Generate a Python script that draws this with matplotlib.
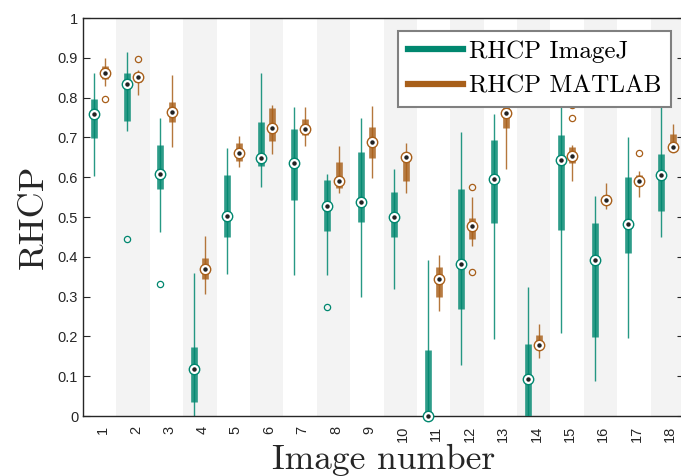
import numpy as np
import matplotlib
matplotlib.use("Agg")
import matplotlib.pyplot as plt
from matplotlib.lines import Line2D

# box statistics (whisker low, q1, median, q3, whisker high)
images = list(range(1, 19))

ij_lo  = [0.604, 0.715, 0.463, 0.0,   0.358, 0.576, 0.354, 0.354, 0.298, 0.318, 0.0,   0.129, 0.193, 0.0,   0.209, 0.089, 0.197, 0.450]
ij_q1  = [0.699, 0.742, 0.570, 0.036, 0.450, 0.629, 0.542, 0.466, 0.487, 0.450, 0.0,   0.270, 0.486, 0.0,   0.468, 0.199, 0.409, 0.516]
ij_med = [0.758, 0.834, 0.608, 0.117, 0.502, 0.649, 0.636, 0.529, 0.537, 0.500, 0.0,   0.381, 0.596, 0.092, 0.643, 0.391, 0.483, 0.606]
ij_q3  = [0.796, 0.862, 0.681, 0.173, 0.605, 0.738, 0.722, 0.593, 0.663, 0.563, 0.167, 0.570, 0.693, 0.181, 0.705, 0.485, 0.600, 0.658]
ij_hi  = [0.861, 0.914, 0.750, 0.359, 0.673, 0.861, 0.776, 0.608, 0.749, 0.621, 0.391, 0.714, 0.758, 0.323, 0.779, 0.552, 0.701, 0.776]
ij_out = [[], [0.445], [0.332], [], [], [], [], [0.273], [], [], [], [], [], [], [], [], [], []]

ml_lo  = [0.830, 0.807, 0.677, 0.307, 0.626, 0.659, 0.679, 0.561, 0.599, 0.561, 0.263, 0.428, 0.621, 0.145, 0.590, 0.519, 0.551, 0.665]
ml_q1  = [0.848, 0.839, 0.739, 0.345, 0.642, 0.692, 0.705, 0.574, 0.649, 0.591, 0.299, 0.446, 0.723, 0.171, 0.637, 0.535, 0.578, 0.672]
ml_med = [0.861, 0.853, 0.765, 0.369, 0.661, 0.723, 0.721, 0.591, 0.688, 0.650, 0.344, 0.477, 0.761, 0.178, 0.653, 0.544, 0.590, 0.677]
ml_q3  = [0.879, 0.863, 0.789, 0.397, 0.687, 0.773, 0.747, 0.639, 0.727, 0.660, 0.374, 0.497, 0.795, 0.204, 0.675, 0.555, 0.606, 0.709]
ml_hi  = [0.899, 0.869, 0.858, 0.452, 0.704, 0.781, 0.776, 0.678, 0.779, 0.685, 0.404, 0.551, 0.830, 0.232, 0.682, 0.585, 0.615, 0.735]
ml_out = [[0.796], [0.897], [], [], [], [], [], [], [], [], [], [0.575, 0.362], [], [], [0.781, 0.750], [], [0.660], []]

teal = "#00876F"
brown = "#A85F1A"

fig = plt.figure(figsize=(6.81, 4.76), dpi=100)
ax = fig.add_axes([0.1219, 0.126, 0.8825, 0.836])

# alternating background bands
for i in images:
    if i % 2 == 0:
        ax.axvspan(i - 0.5, i + 0.5, color="#F3F3F3", lw=0, zorder=0)


def compact_box(x, lo, q1, med, q3, hi, out, color):
    ax.vlines(x, lo, hi, color=color, lw=1.0, alpha=0.85, zorder=2)
    ax.vlines(x, q1, q3, color=color, lw=4.8, alpha=0.82, zorder=3)
    ax.plot(x, med, "o", ms=7.5, mfc="white", mec=color, mew=1.0, zorder=4, clip_on=False)
    ax.plot(x, med, "o", ms=2.2, color="#222222", zorder=5, clip_on=False)
    if out:
        ax.plot([x] * len(out), out, "o", ms=4.5, mfc="none", mec=color, mew=0.9, zorder=4)


for k, i in enumerate(images):
    compact_box(i - 0.18, ij_lo[k], ij_q1[k], ij_med[k], ij_q3[k], ij_hi[k], ij_out[k], teal)
    compact_box(i + 0.16, ml_lo[k], ml_q1[k], ml_med[k], ml_q3[k], ml_hi[k], ml_out[k], brown)

ax.set_xlim(0.5, 18.5)
ax.set_ylim(0, 1)
ax.set_yticks(np.arange(0, 1.01, 0.1))
ax.set_yticklabels(["0", "0.1", "0.2", "0.3", "0.4", "0.5", "0.6", "0.7", "0.8", "0.9", "1"])
ax.set_xticks([i + 0.08 for i in images])
ax.set_xticklabels([str(i) for i in images], rotation=90)
ax.tick_params(axis="y", direction="in", length=5, right=True, labelsize=10.5,
               color="#262626", labelcolor="#262626", labelfontfamily="Liberation Sans")
ax.tick_params(axis="x", length=0, pad=7, labelsize=10.5, labelcolor="#262626",
               labelfontfamily="Liberation Sans")
for s in ax.spines.values():
    s.set_color("#262626")
    s.set_linewidth(1.0)

ax.set_xlabel("Image number", fontfamily="cmr10", fontsize=25.5, color="#262626", labelpad=1)
ax.set_ylabel("RHCP", fontfamily="cmr10", fontsize=26, color="#262626", labelpad=6)

handles = [Line2D([], [], color=teal, lw=4.5), Line2D([], [], color=brown, lw=4.5)]
leg = ax.legend(handles, ["RHCP ImageJ", "RHCP MATLAB"], loc="upper right",
                bbox_to_anchor=(0.978, 0.968), prop={"family": "cmr10", "size": 18},
                frameon=True, framealpha=1, fancybox=False, edgecolor="#808080",
                handlelength=2.2, handletextpad=0.25, borderpad=0.38, labelspacing=0.5,
                borderaxespad=0)
leg.get_frame().set_linewidth(1.5)

fig.savefig("out.png", dpi=100)
